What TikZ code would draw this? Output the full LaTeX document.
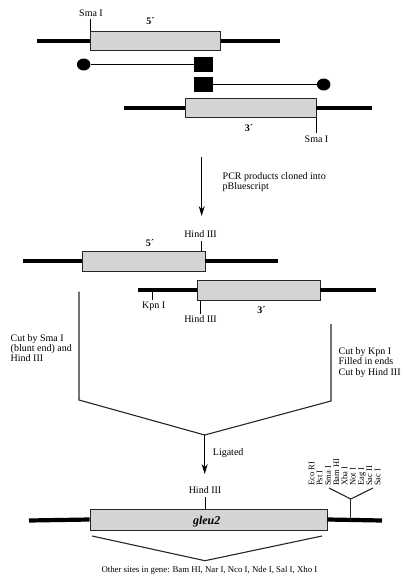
\documentclass[tikz,border=0pt]{standalone}
\usepackage{fontspec}
\setmainfont{Liberation Serif}
\usetikzlibrary{arrows.meta,shapes.geometric}
\begin{document}
\begin{tikzpicture}[x=1pt,y=-1pt,
  genebox/.style={draw=black!85,line width=0.9pt,fill=black!17,inner sep=0pt},
  dna/.style={line width=4.2pt},
  thinline/.style={line width=0.7pt},
  vline/.style={line width=1.1pt,black!85},
  lbl/.style={font=\fontsize{10}{10}\selectfont,inner sep=0pt},
  tag/.style={font=\bfseries\fontsize{10}{10}\selectfont,inner sep=0pt},
  multi/.style={font=\fontsize{10}{10.3}\selectfont,inner sep=0pt,align=left,anchor=north west},
  site/.style={font=\fontsize{8.5}{8.5}\selectfont,inner sep=0pt,rotate=90,anchor=mid west},
  primerdot/.style={ellipse,fill=black,minimum width=13.5pt,minimum height=12pt,inner sep=0pt},
  primerbox/.style={rectangle,fill=black,minimum width=19pt,minimum height=14.5pt,inner sep=0pt},
  arr/.style={line width=0.9pt,-{Stealth[length=10pt,width=6pt]}}]
\useasboundingbox (0,0) rectangle (405,579);

% ---------- row 1 (5' fragment)
\node[genebox,minimum width=130pt,minimum height=19pt] (b1) at (155.7,41) {};
\coordinate (l1) at (37,41);
\coordinate (r1) at (280,41);
\draw[dna] (l1) -- (b1.west);
\draw[dna] (b1.east) -- (r1);
\draw[thinline] (b1.north west) -- ++(0,-12.5) coordinate (s1);
\node[lbl,anchor=base] (smaA) at (91,16) {Sma I};
\node[tag,anchor=base] (fiveA) at (150.5,24) {5´};

% ---------- primers
\node[primerdot] (p1c) at (83.7,64.5) {};
\node[primerbox] (p1s) at (203.5,64.5) {};
\draw[thinline] (p1c) -- (p1s);
\node[primerbox] (p2s) at (203.5,84.5) {};
\node[primerdot] (p2c) at (323.7,84.5) {};
\draw[thinline] (p2s) -- (p2c);

% ---------- row 2 (3' fragment)
\node[genebox,minimum width=130.3pt,minimum height=19.5pt] (b2) at (250.8,107.7) {};
\coordinate (l2) at (124,107.7);
\coordinate (r2) at (372,107.7);
\draw[dna] (l2) -- (b2.west);
\draw[dna] (b2.east) -- (r2);
\draw[thinline] (b2.south east) -- ++(0,15.5) coordinate (s2);
\node[lbl,anchor=base] (smaB) at (316.5,142.7) {Sma I};
\node[tag,anchor=base] (threeA) at (249,131) {3´};

% ---------- arrow 1
\coordinate (a1s) at (201.7,157);
\coordinate (a1e) at (201.7,216);
\draw[arr] (a1s) -- (a1e);
\node[multi] (pcr) at (222.5,172.2) {PCR products cloned into\\pBluescript};

% ---------- row 3
\node[genebox,minimum width=123pt,minimum height=20pt] (b3) at (143.5,261) {};
\coordinate (l3) at (23,261);
\coordinate (r3) at (278,261);
\draw[dna] (l3) -- (b3.west);
\draw[dna] (b3.east) -- (r3);
\draw[thinline] ([xshift=-4.3pt]b3.north east) -- ++(0,-9.5) coordinate (h3);
\node[lbl,anchor=base] (hindA) at (200.5,237.5) {Hind III};
\node[tag,anchor=base] (fiveB) at (150,246.7) {5´};

% ---------- row 4
\node[genebox,minimum width=123pt,minimum height=20pt] (b4) at (258.5,290.3) {};
\coordinate (l4) at (138,290.3);
\coordinate (r4) at (376,290.3);
\draw[dna] (l4) -- (b4.west);
\draw[dna] (b4.east) -- (r4);
\coordinate (k4) at (152,290.3);
\draw[thinline] (k4) -- ++(0,9.5) coordinate (k4e);
\node[lbl,anchor=base] (kpn) at (153.7,308) {Kpn I};
\draw[thinline] ([xshift=3.7pt]b4.south west) -- ++(0,13) coordinate (h4);
\node[lbl,anchor=base] (hindB) at (200.5,322.7) {Hind III};
\node[tag,anchor=base] (threeB) at (261.5,313.3) {3´};

% ---------- merging V
\coordinate (vl1) at (79,291.7);
\coordinate (vl2) at (79,400);
\coordinate (vr1) at (331,324);
\coordinate (vr2) at (331,401);
\coordinate (vb) at (204.7,435);
\coordinate (a2e) at (204.7,474);
\draw[vline] (vl1) -- (vl2) -- (vb) -- (vr2) -- (vr1);
\draw[arr] (vb) -- (a2e);
\node[multi] (cutL) at (10.5,334.1) {Cut by Sma I\\(blunt end) and\\Hind III};
\node[multi] (cutR) at (338.5,347.4) {Cut by Kpn I\\Filled in ends\\Cut by Hind III};
\node[lbl,anchor=base west] (lig) at (212.7,455) {Ligated};

% ---------- final construct
\node[genebox,minimum width=237pt,minimum height=21pt] (b5) at (208.5,519.5) {};
\coordinate (l5) at (29,520.5);
\coordinate (r5) at (382,520.5);
\draw[dna] (l5) -- (b5.west);
\draw[dna] (b5.east) -- (r5);
\node[font=\bfseries\itshape\fontsize{12}{12}\selectfont,inner sep=0pt,anchor=base] (gene) at (206.7,524) {gleu2};
\coordinate (h5) at (205,509);
\draw[thinline] (h5) -- ++(0,-12) coordinate (h5e);
\node[lbl,anchor=base] (hindC) at (205,493.3) {Hind III};

% polylinker
\coordinate (ys) at (350.7,520.5);
\coordinate (yj) at (350.7,499);
\coordinate (ya) at (329,488);
\coordinate (yb) at (373,488);
\draw[vline] (ys) -- (yj);
\draw[vline] (ya) -- (yj) -- (yb);
\node[site] (e1) at (312,486) {Eco RI};
\node[site] (e2) at (320.2,486) {Pst I};
\node[site] (e3) at (328.5,486) {Sma I};
\node[site] (e4) at (336.8,486) {Bam HI};
\node[site] (e5) at (345,486) {Xba I};
\node[site] (e6) at (353.3,486) {Not I};
\node[site] (e7) at (361.5,486) {Eag I};
\node[site] (e8) at (369.8,486) {Sac II};
\node[site] (e9) at (378,486) {Sac I};

% bottom bracket
\coordinate (w1) at (92,536);
\coordinate (w2) at (205,560.7);
\coordinate (w3) at (322,536);
\draw[vline] (w1) -- (w2) -- (w3);
\node[font=\fontsize{8.8}{8.8}\selectfont,inner sep=0pt,anchor=base] (other) at (209.4,572.7) {Other sites in gene: Bam HI, Nar I, Nco I, Nde I, Sal I, Xho I};
\end{tikzpicture}
\end{document}
